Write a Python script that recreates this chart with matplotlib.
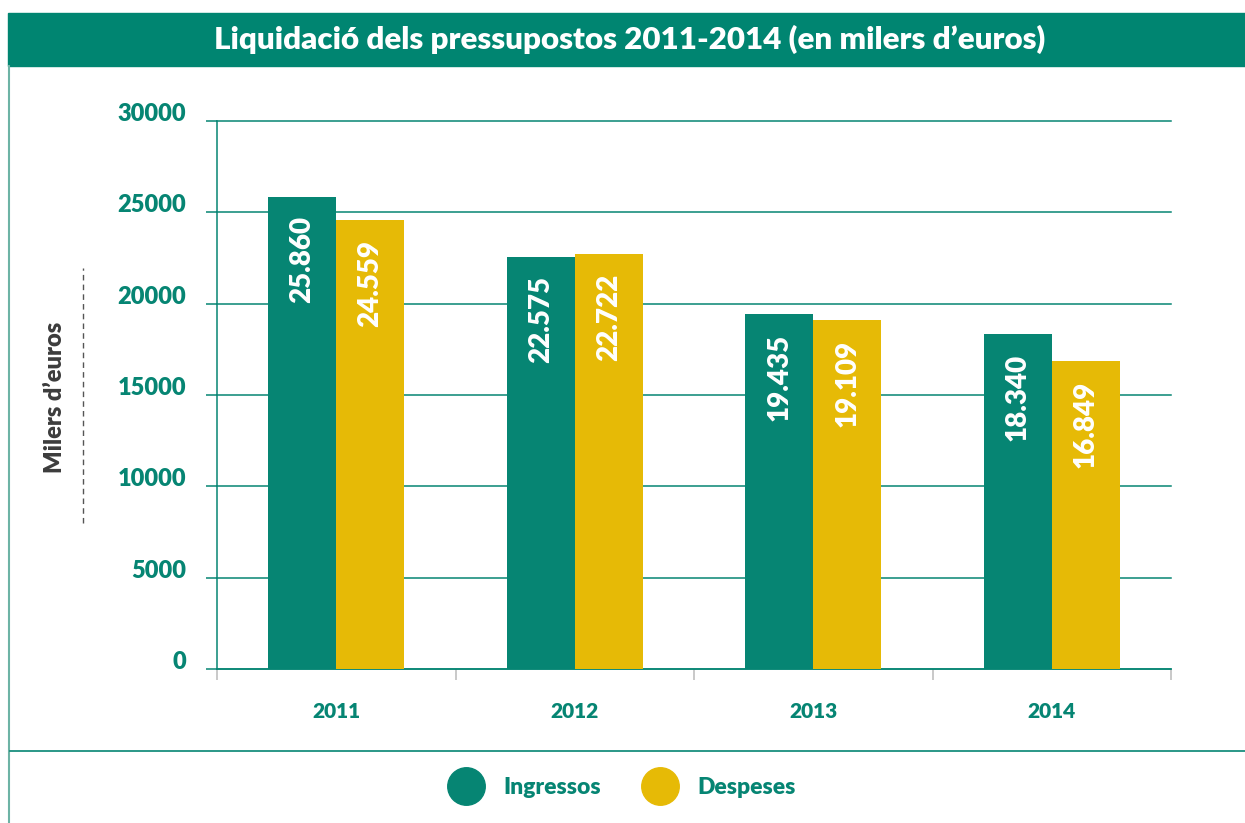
import numpy as np
import matplotlib.pyplot as plt
import matplotlib.transforms as mtransforms
from matplotlib.lines import Line2D
from matplotlib.patches import Rectangle

# dades
years = ['2011', '2012', '2013', '2014']
ingressos = [25860, 22575, 19435, 18340]
despeses = [24559, 22722, 19109, 16849]
ingressos_lbl = ['25.860', '22.575', '19.435', '18.340']
despeses_lbl = ['24.559', '22.722', '19.109', '16.849']
series_names = ['Ingressos', 'Despeses']
yticks = [0, 5000, 10000, 15000, 20000, 25000, 30000]

title = "Liquidació dels pressupostos 2011-2014 (en milers d\u2019euros)"
ylabel = "Milers d\u2019euros"

TEAL = '#068573'
YELLOW = '#E6BA06'
FONT = ['Lato', 'DejaVu Sans']
BOLD = 'heavy'

plt.rcParams['font.family'] = FONT

W, H = 1245, 823
fig = plt.figure(figsize=(W / 100, H / 100), dpi=100)


def fx(px):
    return px / W


def fy(py):
    return 1 - py / H


# barra del títol
fig.patches.append(Rectangle((fx(8), fy(66)), 1 - fx(8), fy(13) - fy(66),
                             transform=fig.transFigure, color='#008571', zorder=0))
fig.text(fx(630), fy(39), title, color='white', fontsize=22.5, fontweight=BOLD,
         ha='center', va='center')

# vores del marc
fig.add_artist(Line2D([fx(9), fx(9)], [0, fy(66)], color='#6DB3A5', lw=1.5))
fig.add_artist(Line2D([fx(10), 1], [fy(751), fy(751)], color=TEAL, lw=1.2))

ax = fig.add_axes([fx(217), fy(669), fx(1171) - fx(217), (669 - 121) / H])

x = np.arange(len(years))
bw = 0.285
ax.bar(x - bw / 2, ingressos, bw, color=TEAL, zorder=3)
ax.bar(x + bw / 2, despeses, bw, color=YELLOW, zorder=3)

for xi, v, s in zip(x, ingressos, ingressos_lbl):
    ax.annotate(s, (xi - bw / 2, v), xytext=(0, -14), textcoords='offset points',
                rotation=90, ha='center', va='top', color='white',
                fontsize=20, fontweight=BOLD, zorder=4)
for xi, v, s in zip(x, despeses, despeses_lbl):
    ax.annotate(s, (xi + bw / 2, v), xytext=(0, -14), textcoords='offset points',
                rotation=90, ha='center', va='top', color='white',
                fontsize=20, fontweight=BOLD, zorder=4)

ax.set_xlim(-0.5, len(years) - 0.5)
ax.set_ylim(0, 30000)
ax.set_yticks(yticks)
ax.set_yticklabels([str(t) for t in yticks])
ax.yaxis.grid(True, color=TEAL, lw=1.1, zorder=0)
for gl in ax.yaxis.get_gridlines():
    gl.set_clip_on(False)
ax.tick_params(axis='y', length=8, width=1.1, color=TEAL, labelcolor=TEAL,
               labelsize=17, pad=14)
shift = mtransforms.ScaledTranslation(0, 0.09, fig.dpi_scale_trans)
for lab in ax.get_yticklabels():
    lab.set_fontweight(BOLD)
    lab.set_transform(lab.get_transform() + shift)

ax.set_xticks(x)
ax.set_xticklabels(years, fontsize=15, fontweight=BOLD, color=TEAL)
ax.tick_params(axis='x', which='major', length=0, pad=24)
ax.set_xticks(np.arange(-0.5, len(years)), minor=True)
ax.tick_params(axis='x', which='minor', length=8, width=1.1, color='#BBBBBB')
ax.xaxis.get_minor_ticks()[0].tick1line.set_color(TEAL)

for side in ['top', 'right']:
    ax.spines[side].set_visible(False)
ax.spines['left'].set_color(TEAL)
ax.spines['left'].set_linewidth(1.1)
ax.spines['bottom'].set_color(TEAL)
ax.spines['bottom'].set_linewidth(1.1)

# etiqueta de l'eix Y i línia discontínua
fig.text(fx(55), fy(397), ylabel, rotation=90, ha='center', va='center',
         fontsize=17, fontweight=BOLD, color='#3C3C3C')
fig.add_artist(Line2D([fx(83), fx(83)], [fy(523), fy(268)], color='#555555',
                      lw=1, ls=(0, (4, 3))))

# llegenda
handles = [Line2D([], [], ls='', marker='o', ms=27, color=c) for c in (TEAL, YELLOW)]
leg = fig.legend(handles, series_names, loc='center', bbox_to_anchor=(fx(624), fy(788)),
                 ncol=2, frameon=False, handlelength=1.2, handletextpad=1.0,
                 columnspacing=2.0, prop={'size': 16.5, 'weight': BOLD})
for t in leg.get_texts():
    t.set_color(TEAL)

fig.savefig('out.png', dpi=100)
